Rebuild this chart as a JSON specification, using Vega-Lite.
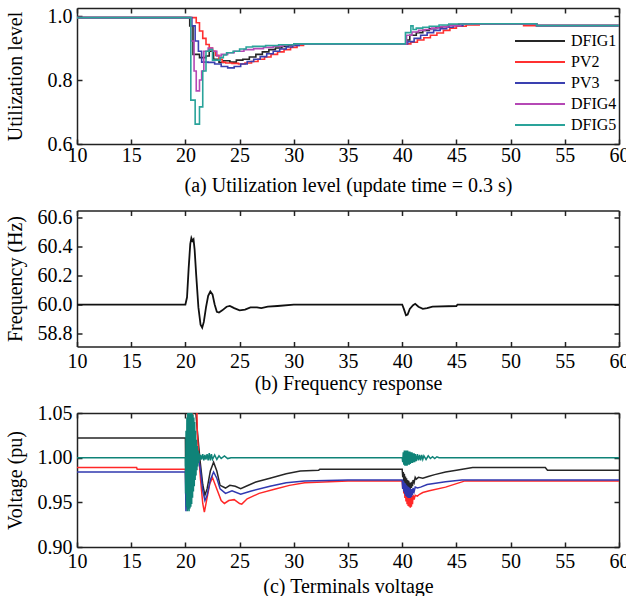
{
  "$schema": "https://vega.github.io/schema/vega-lite/v6.json",
  "background": "white",
  "padding": {"left": 5, "top": 5, "right": 0, "bottom": 0},
  "bounds": "flush",
  "spacing": 66.5,
  "resolve": {"scale": {"color": "independent"}, "legend": {"color": "independent"}},
  "config": {
    "view": {"stroke": null},
    "axis": {
      "labelFont": "Liberation Serif", "titleFont": "Liberation Serif",
      "labelFontSize": 20, "titleFontSize": 20, "labelColor": "#000", "titleColor": "#000",
      "titleFontWeight": "normal", "domainColor": "#222", "tickColor": "#222",
      "domainWidth": 1.5, "tickWidth": 1.5, "tickSize": -5, "grid": false, "labelFlush": false
    },
    "legend": {"labelFont": "Liberation Serif", "labelFontSize": 16, "labelColor": "#000"}
  },
  "datasets": {
    "util": [
      {"s":"DFIG1","t":10,"v":0.995},{"s":"DFIG1","t":20.4,"v":0.969},{"s":"DFIG1","t":20.7,"v":0.88},{"s":"DFIG1","t":21.3,"v":0.87},{"s":"DFIG1","t":21.9,"v":0.875},{"s":"DFIG1","t":22.2,"v":0.89},{"s":"DFIG1","t":22.6,"v":0.865},{"s":"DFIG1","t":23.1,"v":0.855},{"s":"DFIG1","t":23.5,"v":0.86},{"s":"DFIG1","t":24.1,"v":0.856},{"s":"DFIG1","t":24.7,"v":0.862},{"s":"DFIG1","t":25.3,"v":0.865},{"s":"DFIG1","t":25.9,"v":0.872},{"s":"DFIG1","t":26.5,"v":0.88},{"s":"DFIG1","t":27.1,"v":0.888},{"s":"DFIG1","t":27.7,"v":0.895},{"s":"DFIG1","t":28.3,"v":0.9},{"s":"DFIG1","t":28.9,"v":0.905},{"s":"DFIG1","t":29.5,"v":0.909},{"s":"DFIG1","t":30.1,"v":0.913},{"s":"DFIG1","t":40.4,"v":0.925},{"s":"DFIG1","t":40.7,"v":0.94},{"s":"DFIG1","t":41.3,"v":0.948},{"s":"DFIG1","t":41.9,"v":0.955},{"s":"DFIG1","t":42.5,"v":0.96},{"s":"DFIG1","t":43.1,"v":0.964},{"s":"DFIG1","t":43.7,"v":0.967},{"s":"DFIG1","t":44.3,"v":0.971},{"s":"DFIG1","t":45.2,"v":0.974},{"s":"DFIG1","t":46.4,"v":0.976},{"s":"DFIG1","t":52.4,"v":0.97},{"s":"DFIG1","t":60,"v":0.97},
      {"s":"PV2","t":10,"v":0.995},{"s":"PV2","t":21.0,"v":0.979},{"s":"PV2","t":21.3,"v":0.953},{"s":"PV2","t":21.6,"v":0.93},{"s":"PV2","t":21.9,"v":0.911},{"s":"PV2","t":22.2,"v":0.9},{"s":"PV2","t":22.5,"v":0.89},{"s":"PV2","t":22.8,"v":0.877},{"s":"PV2","t":23.1,"v":0.865},{"s":"PV2","t":23.4,"v":0.856},{"s":"PV2","t":23.7,"v":0.853},{"s":"PV2","t":24.3,"v":0.852},{"s":"PV2","t":24.9,"v":0.85},{"s":"PV2","t":25.5,"v":0.853},{"s":"PV2","t":26.1,"v":0.858},{"s":"PV2","t":26.7,"v":0.865},{"s":"PV2","t":27.3,"v":0.872},{"s":"PV2","t":27.9,"v":0.88},{"s":"PV2","t":28.5,"v":0.888},{"s":"PV2","t":29.1,"v":0.895},{"s":"PV2","t":29.7,"v":0.902},{"s":"PV2","t":30.3,"v":0.908},{"s":"PV2","t":30.9,"v":0.913},{"s":"PV2","t":40.8,"v":0.918},{"s":"PV2","t":41.4,"v":0.925},{"s":"PV2","t":42.0,"v":0.932},{"s":"PV2","t":42.6,"v":0.94},{"s":"PV2","t":43.2,"v":0.947},{"s":"PV2","t":43.8,"v":0.955},{"s":"PV2","t":44.4,"v":0.962},{"s":"PV2","t":45.0,"v":0.968},{"s":"PV2","t":45.9,"v":0.972},{"s":"PV2","t":47.1,"v":0.976},{"s":"PV2","t":51.2,"v":0.97},{"s":"PV2","t":60,"v":0.97},
      {"s":"PV3","t":10,"v":0.995},{"s":"PV3","t":20.6,"v":0.969},{"s":"PV3","t":20.9,"v":0.922},{"s":"PV3","t":21.2,"v":0.89},{"s":"PV3","t":21.5,"v":0.856},{"s":"PV3","t":22.1,"v":0.855},{"s":"PV3","t":22.7,"v":0.85},{"s":"PV3","t":23.3,"v":0.842},{"s":"PV3","t":23.9,"v":0.838},{"s":"PV3","t":24.5,"v":0.842},{"s":"PV3","t":25.1,"v":0.85},{"s":"PV3","t":25.7,"v":0.858},{"s":"PV3","t":26.3,"v":0.865},{"s":"PV3","t":26.9,"v":0.873},{"s":"PV3","t":27.5,"v":0.882},{"s":"PV3","t":28.1,"v":0.89},{"s":"PV3","t":28.7,"v":0.897},{"s":"PV3","t":29.3,"v":0.903},{"s":"PV3","t":29.9,"v":0.908},{"s":"PV3","t":30.5,"v":0.913},{"s":"PV3","t":40.5,"v":0.92},{"s":"PV3","t":41.1,"v":0.93},{"s":"PV3","t":41.7,"v":0.94},{"s":"PV3","t":42.3,"v":0.948},{"s":"PV3","t":42.9,"v":0.955},{"s":"PV3","t":43.5,"v":0.96},{"s":"PV3","t":44.1,"v":0.965},{"s":"PV3","t":44.7,"v":0.97},{"s":"PV3","t":45.6,"v":0.974},{"s":"PV3","t":46.5,"v":0.976},{"s":"PV3","t":52.4,"v":0.97},{"s":"PV3","t":60,"v":0.97},
      {"s":"DFIG4","t":10,"v":0.995},{"s":"DFIG4","t":20.5,"v":0.922},{"s":"DFIG4","t":20.8,"v":0.828},{"s":"DFIG4","t":21.0,"v":0.766},{"s":"DFIG4","t":21.3,"v":0.8},{"s":"DFIG4","t":21.5,"v":0.828},{"s":"DFIG4","t":21.7,"v":0.89},{"s":"DFIG4","t":22.1,"v":0.9},{"s":"DFIG4","t":22.5,"v":0.89},{"s":"DFIG4","t":22.9,"v":0.875},{"s":"DFIG4","t":23.3,"v":0.88},{"s":"DFIG4","t":23.9,"v":0.885},{"s":"DFIG4","t":24.5,"v":0.89},{"s":"DFIG4","t":25.4,"v":0.895},{"s":"DFIG4","t":26.3,"v":0.898},{"s":"DFIG4","t":27.2,"v":0.902},{"s":"DFIG4","t":28.1,"v":0.906},{"s":"DFIG4","t":29.0,"v":0.91},{"s":"DFIG4","t":30.0,"v":0.913},{"s":"DFIG4","t":40.4,"v":0.94},{"s":"DFIG4","t":40.9,"v":0.95},{"s":"DFIG4","t":41.5,"v":0.955},{"s":"DFIG4","t":42.1,"v":0.958},{"s":"DFIG4","t":42.7,"v":0.962},{"s":"DFIG4","t":43.3,"v":0.966},{"s":"DFIG4","t":44.2,"v":0.97},{"s":"DFIG4","t":45.4,"v":0.974},{"s":"DFIG4","t":46.5,"v":0.976},{"s":"DFIG4","t":52.4,"v":0.97},{"s":"DFIG4","t":60,"v":0.97},
      {"s":"DFIG5","t":10,"v":0.995},{"s":"DFIG5","t":20.5,"v":0.737},{"s":"DFIG5","t":20.9,"v":0.662},{"s":"DFIG5","t":21.3,"v":0.716},{"s":"DFIG5","t":21.6,"v":0.828},{"s":"DFIG5","t":21.9,"v":0.89},{"s":"DFIG5","t":22.2,"v":0.895},{"s":"DFIG5","t":22.5,"v":0.862},{"s":"DFIG5","t":23.2,"v":0.87},{"s":"DFIG5","t":23.5,"v":0.878},{"s":"DFIG5","t":23.8,"v":0.885},{"s":"DFIG5","t":24.4,"v":0.89},{"s":"DFIG5","t":25.0,"v":0.897},{"s":"DFIG5","t":25.6,"v":0.903},{"s":"DFIG5","t":26.2,"v":0.905},{"s":"DFIG5","t":27.4,"v":0.908},{"s":"DFIG5","t":28.6,"v":0.91},{"s":"DFIG5","t":30.0,"v":0.913},{"s":"DFIG5","t":40.3,"v":0.948},{"s":"DFIG5","t":40.8,"v":0.969},{"s":"DFIG5","t":41.0,"v":0.958},{"s":"DFIG5","t":41.3,"v":0.962},{"s":"DFIG5","t":41.9,"v":0.965},{"s":"DFIG5","t":42.5,"v":0.968},{"s":"DFIG5","t":43.4,"v":0.972},{"s":"DFIG5","t":44.3,"v":0.975},{"s":"DFIG5","t":46.5,"v":0.976},{"s":"DFIG5","t":52.4,"v":0.97},{"s":"DFIG5","t":60,"v":0.97}
    ],
    "freq": [
      {"t":10,"f":60.0},{"t":20.0,"f":60.0},{"t":20.15,"f":60.05},{"t":20.3,"f":60.25},{"t":20.45,"f":60.42},{"t":20.55,"f":60.46},{"t":20.65,"f":60.44},{"t":20.75,"f":60.45},{"t":20.85,"f":60.38},{"t":21.0,"f":60.2},{"t":21.2,"f":59.98},{"t":21.4,"f":59.86},{"t":21.55,"f":59.84},{"t":21.7,"f":59.88},{"t":21.9,"f":59.98},{"t":22.1,"f":60.06},{"t":22.3,"f":60.09},{"t":22.5,"f":60.07},{"t":22.7,"f":60.0},{"t":22.9,"f":59.95},{"t":23.1,"f":59.945},{"t":23.4,"f":59.96},{"t":23.8,"f":59.985},{"t":24.1,"f":59.99},{"t":24.5,"f":59.975},{"t":25.0,"f":59.96},{"t":25.5,"f":59.965},{"t":26.0,"f":59.98},{"t":26.6,"f":59.98},{"t":27.0,"f":59.975},{"t":27.6,"f":59.985},{"t":28.5,"f":59.99},{"t":30.0,"f":60.0},{"t":40.0,"f":60.0},{"t":40.15,"f":59.97},{"t":40.35,"f":59.925},{"t":40.5,"f":59.93},{"t":40.7,"f":59.97},{"t":41.0,"f":59.995},{"t":41.2,"f":60.005},{"t":41.5,"f":59.985},{"t":41.9,"f":59.97},{"t":42.3,"f":59.975},{"t":42.8,"f":59.985},{"t":45.0,"f":59.99},{"t":45.1,"f":60.0},{"t":60,"f":60.0}
    ],
    "volt": [
      {"s":"DFIG1","t":10,"v":1.022},{"s":"DFIG1","t":20.0,"v":1.022},{"s":"DFIG1","t":20.02,"v":0.99},{"s":"DFIG1","t":20.2,"v":1.01},{"s":"DFIG1","t":20.4,"v":1.04},{"s":"DFIG1","t":20.6,"v":1.06},{"s":"DFIG1","t":20.9,"v":1.06},{"s":"DFIG1","t":21.1,"v":1.03},{"s":"DFIG1","t":21.35,"v":0.997},{"s":"DFIG1","t":21.6,"v":0.97},{"s":"DFIG1","t":21.8,"v":0.958},{"s":"DFIG1","t":22.0,"v":0.965},{"s":"DFIG1","t":22.3,"v":0.985},{"s":"DFIG1","t":22.6,"v":0.995},{"s":"DFIG1","t":22.9,"v":0.985},{"s":"DFIG1","t":23.2,"v":0.969},{"s":"DFIG1","t":23.7,"v":0.966},{"s":"DFIG1","t":24.1,"v":0.969},{"s":"DFIG1","t":24.6,"v":0.968},{"s":"DFIG1","t":25.1,"v":0.9654},{"s":"DFIG1","t":25.6,"v":0.968},{"s":"DFIG1","t":26.5,"v":0.9728},{"s":"DFIG1","t":27.8,"v":0.977},{"s":"DFIG1","t":29.3,"v":0.982},{"s":"DFIG1","t":30.6,"v":0.985},{"s":"DFIG1","t":32.3,"v":0.986},{"s":"DFIG1","t":32.4,"v":0.987},{"s":"DFIG1","t":40.0,"v":0.987},{"s":"DFIG1","t":40.05,"v":0.978},{"s":"DFIG1","t":40.1,"v":0.984},{"s":"DFIG1","t":40.15,"v":0.974},{"s":"DFIG1","t":40.2,"v":0.982},{"s":"DFIG1","t":40.25,"v":0.971},{"s":"DFIG1","t":40.3,"v":0.979},{"s":"DFIG1","t":40.35,"v":0.969},{"s":"DFIG1","t":40.4,"v":0.977},{"s":"DFIG1","t":40.45,"v":0.967},{"s":"DFIG1","t":40.5,"v":0.975},{"s":"DFIG1","t":40.55,"v":0.966},{"s":"DFIG1","t":40.6,"v":0.974},{"s":"DFIG1","t":40.65,"v":0.965},{"s":"DFIG1","t":40.7,"v":0.972},{"s":"DFIG1","t":40.75,"v":0.965},{"s":"DFIG1","t":40.8,"v":0.972},{"s":"DFIG1","t":40.85,"v":0.966},{"s":"DFIG1","t":40.9,"v":0.973},{"s":"DFIG1","t":40.95,"v":0.968},{"s":"DFIG1","t":41.0,"v":0.975},{"s":"DFIG1","t":41.1,"v":0.972},{"s":"DFIG1","t":41.2,"v":0.978},{"s":"DFIG1","t":41.3,"v":0.976},{"s":"DFIG1","t":41.5,"v":0.978},{"s":"DFIG1","t":41.9,"v":0.977},{"s":"DFIG1","t":42.4,"v":0.979},{"s":"DFIG1","t":43.0,"v":0.981},{"s":"DFIG1","t":44.0,"v":0.984},{"s":"DFIG1","t":45.0,"v":0.986},{"s":"DFIG1","t":46.5,"v":0.989},{"s":"DFIG1","t":53.2,"v":0.989},{"s":"DFIG1","t":53.4,"v":0.986},{"s":"DFIG1","t":60,"v":0.986},
      {"s":"PV2","t":10,"v":0.989},{"s":"PV2","t":15.5,"v":0.989},{"s":"PV2","t":15.55,"v":0.987},{"s":"PV2","t":20.0,"v":0.987},{"s":"PV2","t":20.05,"v":0.96},{"s":"PV2","t":20.3,"v":1.0},{"s":"PV2","t":20.6,"v":1.04},{"s":"PV2","t":20.75,"v":1.06},{"s":"PV2","t":21.05,"v":1.06},{"s":"PV2","t":21.1,"v":1.027},{"s":"PV2","t":21.2,"v":1.008},{"s":"PV2","t":21.4,"v":0.975},{"s":"PV2","t":21.6,"v":0.9487},{"s":"PV2","t":21.75,"v":0.939},{"s":"PV2","t":21.95,"v":0.952},{"s":"PV2","t":22.25,"v":0.971},{"s":"PV2","t":22.5,"v":0.9777},{"s":"PV2","t":22.8,"v":0.968},{"s":"PV2","t":23.3,"v":0.952},{"s":"PV2","t":23.6,"v":0.9487},{"s":"PV2","t":24.0,"v":0.952},{"s":"PV2","t":24.5,"v":0.953},{"s":"PV2","t":25.0,"v":0.9487},{"s":"PV2","t":25.2,"v":0.948},{"s":"PV2","t":25.7,"v":0.954},{"s":"PV2","t":26.8,"v":0.96},{"s":"PV2","t":28.3,"v":0.965},{"s":"PV2","t":29.6,"v":0.969},{"s":"PV2","t":31.0,"v":0.972},{"s":"PV2","t":35.0,"v":0.974},{"s":"PV2","t":40.0,"v":0.974},{"s":"PV2","t":40.05,"v":0.965},{"s":"PV2","t":40.1,"v":0.972},{"s":"PV2","t":40.15,"v":0.96},{"s":"PV2","t":40.2,"v":0.968},{"s":"PV2","t":40.25,"v":0.955},{"s":"PV2","t":40.3,"v":0.965},{"s":"PV2","t":40.35,"v":0.951},{"s":"PV2","t":40.4,"v":0.962},{"s":"PV2","t":40.45,"v":0.948},{"s":"PV2","t":40.5,"v":0.96},{"s":"PV2","t":40.55,"v":0.946},{"s":"PV2","t":40.6,"v":0.958},{"s":"PV2","t":40.65,"v":0.945},{"s":"PV2","t":40.7,"v":0.957},{"s":"PV2","t":40.75,"v":0.944},{"s":"PV2","t":40.8,"v":0.956},{"s":"PV2","t":40.85,"v":0.945},{"s":"PV2","t":40.9,"v":0.957},{"s":"PV2","t":40.95,"v":0.948},{"s":"PV2","t":41.0,"v":0.958},{"s":"PV2","t":41.1,"v":0.953},{"s":"PV2","t":41.2,"v":0.958},{"s":"PV2","t":41.4,"v":0.957},{"s":"PV2","t":41.6,"v":0.959},{"s":"PV2","t":41.9,"v":0.961},{"s":"PV2","t":42.5,"v":0.963},{"s":"PV2","t":44.0,"v":0.967},{"s":"PV2","t":45.8,"v":0.974},{"s":"PV2","t":60,"v":0.974},
      {"s":"PV3","t":10,"v":0.984},{"s":"PV3","t":20.0,"v":0.984},{"s":"PV3","t":20.05,"v":0.94},{"s":"PV3","t":20.2,"v":0.97},{"s":"PV3","t":20.35,"v":0.95},{"s":"PV3","t":20.5,"v":1.0},{"s":"PV3","t":20.7,"v":1.03},{"s":"PV3","t":20.9,"v":1.02},{"s":"PV3","t":21.1,"v":1.005},{"s":"PV3","t":21.35,"v":0.99},{"s":"PV3","t":21.6,"v":0.963},{"s":"PV3","t":21.8,"v":0.952},{"s":"PV3","t":22.0,"v":0.958},{"s":"PV3","t":22.3,"v":0.975},{"s":"PV3","t":22.6,"v":0.984},{"s":"PV3","t":22.9,"v":0.977},{"s":"PV3","t":23.2,"v":0.965},{"s":"PV3","t":23.7,"v":0.96},{"s":"PV3","t":24.3,"v":0.963},{"s":"PV3","t":25.1,"v":0.959},{"s":"PV3","t":26.0,"v":0.9625},{"s":"PV3","t":27.8,"v":0.968},{"s":"PV3","t":29.3,"v":0.972},{"s":"PV3","t":31.0,"v":0.974},{"s":"PV3","t":35.0,"v":0.975},{"s":"PV3","t":40.0,"v":0.975},{"s":"PV3","t":40.05,"v":0.965},{"s":"PV3","t":40.1,"v":0.974},{"s":"PV3","t":40.15,"v":0.962},{"s":"PV3","t":40.2,"v":0.972},{"s":"PV3","t":40.25,"v":0.959},{"s":"PV3","t":40.3,"v":0.971},{"s":"PV3","t":40.35,"v":0.957},{"s":"PV3","t":40.4,"v":0.969},{"s":"PV3","t":40.45,"v":0.956},{"s":"PV3","t":40.5,"v":0.968},{"s":"PV3","t":40.55,"v":0.955},{"s":"PV3","t":40.6,"v":0.967},{"s":"PV3","t":40.65,"v":0.955},{"s":"PV3","t":40.7,"v":0.966},{"s":"PV3","t":40.75,"v":0.955},{"s":"PV3","t":40.8,"v":0.965},{"s":"PV3","t":40.85,"v":0.956},{"s":"PV3","t":40.9,"v":0.965},{"s":"PV3","t":40.95,"v":0.958},{"s":"PV3","t":41.0,"v":0.966},{"s":"PV3","t":41.1,"v":0.962},{"s":"PV3","t":41.2,"v":0.967},{"s":"PV3","t":41.4,"v":0.966},{"s":"PV3","t":41.7,"v":0.967},{"s":"PV3","t":42.3,"v":0.97},{"s":"PV3","t":44.0,"v":0.973},{"s":"PV3","t":45.5,"v":0.975},{"s":"PV3","t":60,"v":0.975},
      {"s":"DFIG5","t":10,"v":1.0},{"s":"DFIG5","t":20.0,"v":1.0},{"s":"DFIG5","t":20.02,"v":0.96},{"s":"DFIG5","t":20.06,"v":1.03},{"s":"DFIG5","t":20.1,"v":0.945},{"s":"DFIG5","t":20.14,"v":1.045},{"s":"DFIG5","t":20.18,"v":0.94},{"s":"DFIG5","t":20.22,"v":1.05},{"s":"DFIG5","t":20.26,"v":0.942},{"s":"DFIG5","t":20.3,"v":1.05},{"s":"DFIG5","t":20.34,"v":0.94},{"s":"DFIG5","t":20.38,"v":1.05},{"s":"DFIG5","t":20.42,"v":0.943},{"s":"DFIG5","t":20.46,"v":1.05},{"s":"DFIG5","t":20.5,"v":0.945},{"s":"DFIG5","t":20.54,"v":1.05},{"s":"DFIG5","t":20.58,"v":0.948},{"s":"DFIG5","t":20.62,"v":1.05},{"s":"DFIG5","t":20.66,"v":0.955},{"s":"DFIG5","t":20.7,"v":1.048},{"s":"DFIG5","t":20.74,"v":0.962},{"s":"DFIG5","t":20.78,"v":1.045},{"s":"DFIG5","t":20.82,"v":0.968},{"s":"DFIG5","t":20.86,"v":1.04},{"s":"DFIG5","t":20.9,"v":0.975},{"s":"DFIG5","t":20.94,"v":1.03},{"s":"DFIG5","t":20.98,"v":0.98},{"s":"DFIG5","t":21.02,"v":1.02},{"s":"DFIG5","t":21.06,"v":0.986},{"s":"DFIG5","t":21.1,"v":1.013},{"s":"DFIG5","t":21.14,"v":0.99},{"s":"DFIG5","t":21.18,"v":1.008},{"s":"DFIG5","t":21.22,"v":0.994},{"s":"DFIG5","t":21.26,"v":1.005},{"s":"DFIG5","t":21.3,"v":0.997},{"s":"DFIG5","t":21.4,"v":1.003},{"s":"DFIG5","t":21.5,"v":0.998},{"s":"DFIG5","t":21.6,"v":1.004},{"s":"DFIG5","t":21.7,"v":0.997},{"s":"DFIG5","t":21.8,"v":1.003},{"s":"DFIG5","t":21.9,"v":0.998},{"s":"DFIG5","t":22.0,"v":1.004},{"s":"DFIG5","t":22.1,"v":0.997},{"s":"DFIG5","t":22.2,"v":1.005},{"s":"DFIG5","t":22.3,"v":0.997},{"s":"DFIG5","t":22.4,"v":1.004},{"s":"DFIG5","t":22.5,"v":0.998},{"s":"DFIG5","t":22.7,"v":1.003},{"s":"DFIG5","t":22.9,"v":0.998},{"s":"DFIG5","t":23.1,"v":1.002},{"s":"DFIG5","t":23.3,"v":0.999},{"s":"DFIG5","t":23.6,"v":1.002},{"s":"DFIG5","t":23.9,"v":0.999},{"s":"DFIG5","t":24.2,"v":1.0},{"s":"DFIG5","t":40.0,"v":1.0},{"s":"DFIG5","t":40.05,"v":0.995},{"s":"DFIG5","t":40.1,"v":1.006},{"s":"DFIG5","t":40.15,"v":0.992},{"s":"DFIG5","t":40.2,"v":1.008},{"s":"DFIG5","t":40.25,"v":0.991},{"s":"DFIG5","t":40.3,"v":1.008},{"s":"DFIG5","t":40.35,"v":0.991},{"s":"DFIG5","t":40.4,"v":1.008},{"s":"DFIG5","t":40.45,"v":0.991},{"s":"DFIG5","t":40.5,"v":1.008},{"s":"DFIG5","t":40.55,"v":0.992},{"s":"DFIG5","t":40.6,"v":1.007},{"s":"DFIG5","t":40.65,"v":0.992},{"s":"DFIG5","t":40.7,"v":1.007},{"s":"DFIG5","t":40.75,"v":0.993},{"s":"DFIG5","t":40.8,"v":1.006},{"s":"DFIG5","t":40.85,"v":0.994},{"s":"DFIG5","t":40.9,"v":1.006},{"s":"DFIG5","t":40.95,"v":0.994},{"s":"DFIG5","t":41.0,"v":1.005},{"s":"DFIG5","t":41.05,"v":0.995},{"s":"DFIG5","t":41.1,"v":1.005},{"s":"DFIG5","t":41.15,"v":0.995},{"s":"DFIG5","t":41.2,"v":1.004},{"s":"DFIG5","t":41.3,"v":0.996},{"s":"DFIG5","t":41.4,"v":1.004},{"s":"DFIG5","t":41.5,"v":0.997},{"s":"DFIG5","t":41.6,"v":1.003},{"s":"DFIG5","t":41.7,"v":0.997},{"s":"DFIG5","t":41.8,"v":1.003},{"s":"DFIG5","t":41.9,"v":0.998},{"s":"DFIG5","t":42.0,"v":1.002},{"s":"DFIG5","t":42.2,"v":0.998},{"s":"DFIG5","t":42.4,"v":1.002},{"s":"DFIG5","t":42.6,"v":0.999},{"s":"DFIG5","t":42.8,"v":1.001},{"s":"DFIG5","t":43.0,"v":0.999},{"s":"DFIG5","t":43.2,"v":1.001},{"s":"DFIG5","t":43.4,"v":1.0},{"s":"DFIG5","t":60,"v":1.0}
    ]
  },
  "vconcat": [
    {
      "width": 542, "height": 136,
      "layer": [
        {
          "data": {"name": "util"},
          "mark": {"type": "line", "interpolate": "step-after", "strokeWidth": 1.6},
          "encoding": {
            "x": {"field": "t", "type": "quantitative", "scale": {"domain": [10, 60], "nice": false},
                  "axis": {"values": [10,15,20,25,30,35,40,45,50,55,60], "title": "(a) Utilization level (update time = 0.3 s)", "labelPadding": 6, "titleY": 47, "titleBaseline": "alphabetic"}},
            "y": {"field": "v", "type": "quantitative", "scale": {"domain": [0.6, 1.025], "nice": false, "zero": false},
                  "axis": {"values": [0.6, 0.8, 1.0], "format": ".1f", "title": "Utilization level", "titleX": -52, "labelPadding": 10}},
            "color": {"field": "s", "type": "nominal",
                      "scale": {"domain": ["DFIG1","PV2","PV3","DFIG4","DFIG5"], "range": ["#262626","#ff3030","#3a40b0","#b548b5","#2aa39a"]},
                      "legend": {"orient": "none", "legendX": 455, "legendY": 25, "title": null, "symbolType": "M-5,0H5", "symbolSize": 100, "symbolStrokeWidth": 2, "labelOffset": 23, "rowPadding": 5, "padding": 0}}
          }
        },
        {
          "data": {"name": "util"},
          "mark": {"type": "point", "opacity": 0},
          "encoding": {
            "x": {"field": "t", "type": "quantitative", "axis": {"orient": "top", "values": [10,15,20,25,30,35,40,45,50,55,60], "labels": false, "title": null}},
            "y": {"field": "v", "type": "quantitative", "axis": {"orient": "right", "values": [0.6, 0.8, 1.0], "labels": false, "title": null}}
          }
        }
      ],
      "resolve": {"axis": {"x": "independent", "y": "independent"}}
    },
    {
      "width": 542, "height": 136,
      "layer": [
        {
          "data": {"name": "freq"},
          "mark": {"type": "line", "strokeWidth": 1.8, "color": "#111"},
          "encoding": {
            "x": {"field": "t", "type": "quantitative", "scale": {"domain": [10, 60], "nice": false},
                  "axis": {"values": [10,15,20,25,30,35,40,45,50,55,60], "title": "(b) Frequency response", "labelPadding": 10, "titleY": 43, "titleBaseline": "alphabetic"}},
            "y": {"field": "f", "type": "quantitative", "scale": {"domain": [59.71, 60.65], "nice": false, "zero": false},
                  "axis": {"values": [59.8, 60.0, 60.2, 60.4, 60.6], "labelExpr": "datum.value < 59.9 ? '58.8' : format(datum.value, '.1f')", "title": "Frequency (Hz)", "titleX": -52, "labelPadding": 10}}
          }
        },
        {
          "data": {"name": "freq"},
          "mark": {"type": "point", "opacity": 0},
          "encoding": {
            "x": {"field": "t", "type": "quantitative", "axis": {"orient": "top", "values": [10,15,20,25,30,35,40,45,50,55,60], "labels": false, "title": null}},
            "y": {"field": "f", "type": "quantitative", "axis": {"orient": "right", "values": [59.8, 60.0, 60.2, 60.4, 60.6], "labels": false, "title": null}}
          }
        }
      ],
      "resolve": {"axis": {"x": "independent", "y": "independent"}}
    },
    {
      "width": 542, "height": 134,
      "layer": [
        {
          "data": {"name": "volt"},
          "mark": {"type": "line", "strokeWidth": 1.5, "clip": true},
          "encoding": {
            "x": {"field": "t", "type": "quantitative", "scale": {"domain": [10, 60], "nice": false},
                  "axis": {"values": [10,15,20,25,30,35,40,45,50,55,60], "title": "(c) Terminals voltage", "labelPadding": 9, "titleY": 45, "titleBaseline": "alphabetic"}},
            "y": {"field": "v", "type": "quantitative", "scale": {"domain": [0.9, 1.05], "nice": false, "zero": false},
                  "axis": {"values": [0.9, 0.95, 1.0, 1.05], "format": ".2f", "title": "Voltage (pu)", "titleX": -52, "labelPadding": 10}},
            "color": {"field": "s", "type": "nominal",
                      "scale": {"domain": ["DFIG1","PV2","PV3","DFIG5"], "range": ["#262626","#ff2828","#3038b0","#0f8378"]},
                      "legend": null}
          }
        },
        {
          "data": {"name": "volt"},
          "mark": {"type": "point", "opacity": 0},
          "encoding": {
            "x": {"field": "t", "type": "quantitative", "axis": {"orient": "top", "values": [10,15,20,25,30,35,40,45,50,55,60], "labels": false, "title": null}},
            "y": {"field": "v", "type": "quantitative", "axis": {"orient": "right", "values": [0.9, 0.95, 1.0, 1.05], "labels": false, "title": null}}
          }
        }
      ],
      "resolve": {"axis": {"x": "independent", "y": "independent"}}
    }
  ]
}
